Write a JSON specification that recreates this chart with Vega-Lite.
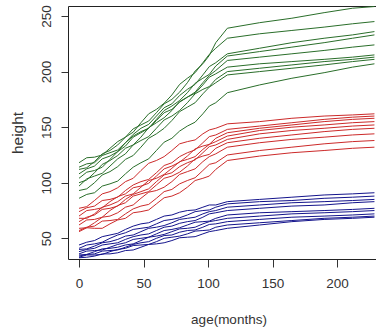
{
  "$schema": "https://vega.github.io/schema/vega-lite/v6.json",
  "width": 308,
  "height": 253,
  "autosize": {"type": "none"},
  "padding": {"left": 68, "top": 6, "right": 0, "bottom": 74},
  "background": "white",
  "config": {
    "font": "Liberation Sans",
    "view": {"stroke": null},
    "axis": {"grid": false, "domainColor": "#222", "tickColor": "#333", "labelColor": "#333", "titleColor": "#333", "labelFontSize": 13.5, "titleFontSize": 13.5, "titleFontWeight": "normal"}
  },
  "data": {"values": [
    {"curve":"G1","group":"green","age":0,"height":118},{"curve":"G1","group":"green","age":12,"height":123},{"curve":"G1","group":"green","age":24,"height":131},{"curve":"G1","group":"green","age":36,"height":141},{"curve":"G1","group":"green","age":48,"height":152},{"curve":"G1","group":"green","age":60,"height":163},{"curve":"G1","group":"green","age":72,"height":175},{"curve":"G1","group":"green","age":84,"height":190},{"curve":"G1","group":"green","age":96,"height":207},{"curve":"G1","group":"green","age":106,"height":226},{"curve":"G1","group":"green","age":115,"height":239},{"curve":"G1","group":"green","age":140,"height":244},{"curve":"G1","group":"green","age":165,"height":248},{"curve":"G1","group":"green","age":190,"height":253},{"curve":"G1","group":"green","age":212,"height":257},{"curve":"G1","group":"green","age":229,"height":258.5},
    {"curve":"G2","group":"green","age":0,"height":112},{"curve":"G2","group":"green","age":12,"height":119},{"curve":"G2","group":"green","age":24,"height":129},{"curve":"G2","group":"green","age":36,"height":141},{"curve":"G2","group":"green","age":48,"height":154},{"curve":"G2","group":"green","age":60,"height":166},{"curve":"G2","group":"green","age":72,"height":179},{"curve":"G2","group":"green","age":84,"height":194},{"curve":"G2","group":"green","age":96,"height":208},{"curve":"G2","group":"green","age":106,"height":221},{"curve":"G2","group":"green","age":115,"height":230},{"curve":"G2","group":"green","age":140,"height":234},{"curve":"G2","group":"green","age":165,"height":237},{"curve":"G2","group":"green","age":190,"height":240},{"curve":"G2","group":"green","age":212,"height":243},{"curve":"G2","group":"green","age":229,"height":245},
    {"curve":"G3","group":"green","age":0,"height":108},{"curve":"G3","group":"green","age":12,"height":115},{"curve":"G3","group":"green","age":24,"height":124},{"curve":"G3","group":"green","age":36,"height":136},{"curve":"G3","group":"green","age":48,"height":149},{"curve":"G3","group":"green","age":60,"height":160},{"curve":"G3","group":"green","age":72,"height":171},{"curve":"G3","group":"green","age":84,"height":184},{"curve":"G3","group":"green","age":96,"height":197},{"curve":"G3","group":"green","age":106,"height":208},{"curve":"G3","group":"green","age":115,"height":216},{"curve":"G3","group":"green","age":140,"height":221},{"curve":"G3","group":"green","age":165,"height":226},{"curve":"G3","group":"green","age":190,"height":230},{"curve":"G3","group":"green","age":212,"height":233},{"curve":"G3","group":"green","age":229,"height":236},
    {"curve":"G4","group":"green","age":0,"height":104},{"curve":"G4","group":"green","age":12,"height":111},{"curve":"G4","group":"green","age":24,"height":121},{"curve":"G4","group":"green","age":36,"height":133},{"curve":"G4","group":"green","age":48,"height":145},{"curve":"G4","group":"green","age":60,"height":157},{"curve":"G4","group":"green","age":72,"height":169},{"curve":"G4","group":"green","age":84,"height":181},{"curve":"G4","group":"green","age":96,"height":194},{"curve":"G4","group":"green","age":106,"height":205},{"curve":"G4","group":"green","age":115,"height":214},{"curve":"G4","group":"green","age":140,"height":218},{"curve":"G4","group":"green","age":165,"height":222},{"curve":"G4","group":"green","age":190,"height":226},{"curve":"G4","group":"green","age":212,"height":230},{"curve":"G4","group":"green","age":229,"height":233},
    {"curve":"G5","group":"green","age":0,"height":100},{"curve":"G5","group":"green","age":12,"height":109},{"curve":"G5","group":"green","age":24,"height":120},{"curve":"G5","group":"green","age":36,"height":131},{"curve":"G5","group":"green","age":48,"height":141},{"curve":"G5","group":"green","age":60,"height":154},{"curve":"G5","group":"green","age":72,"height":165},{"curve":"G5","group":"green","age":84,"height":177},{"curve":"G5","group":"green","age":96,"height":190},{"curve":"G5","group":"green","age":106,"height":201},{"curve":"G5","group":"green","age":115,"height":210},{"curve":"G5","group":"green","age":140,"height":213},{"curve":"G5","group":"green","age":165,"height":216},{"curve":"G5","group":"green","age":190,"height":219},{"curve":"G5","group":"green","age":212,"height":222},{"curve":"G5","group":"green","age":229,"height":224},
    {"curve":"G6","group":"green","age":0,"height":114},{"curve":"G6","group":"green","age":12,"height":118},{"curve":"G6","group":"green","age":24,"height":127},{"curve":"G6","group":"green","age":36,"height":136},{"curve":"G6","group":"green","age":48,"height":146},{"curve":"G6","group":"green","age":60,"height":156},{"curve":"G6","group":"green","age":72,"height":166},{"curve":"G6","group":"green","age":84,"height":177},{"curve":"G6","group":"green","age":96,"height":188},{"curve":"G6","group":"green","age":106,"height":198},{"curve":"G6","group":"green","age":115,"height":204},{"curve":"G6","group":"green","age":140,"height":207},{"curve":"G6","group":"green","age":165,"height":209},{"curve":"G6","group":"green","age":190,"height":211},{"curve":"G6","group":"green","age":212,"height":213},{"curve":"G6","group":"green","age":229,"height":215},
    {"curve":"G7","group":"green","age":0,"height":97},{"curve":"G7","group":"green","age":12,"height":106},{"curve":"G7","group":"green","age":24,"height":115},{"curve":"G7","group":"green","age":36,"height":126},{"curve":"G7","group":"green","age":48,"height":138},{"curve":"G7","group":"green","age":60,"height":149},{"curve":"G7","group":"green","age":72,"height":160},{"curve":"G7","group":"green","age":84,"height":172},{"curve":"G7","group":"green","age":96,"height":184},{"curve":"G7","group":"green","age":106,"height":193},{"curve":"G7","group":"green","age":115,"height":200},{"curve":"G7","group":"green","age":140,"height":203},{"curve":"G7","group":"green","age":165,"height":206},{"curve":"G7","group":"green","age":190,"height":209},{"curve":"G7","group":"green","age":212,"height":211},{"curve":"G7","group":"green","age":229,"height":213},
    {"curve":"G8","group":"green","age":0,"height":93},{"curve":"G8","group":"green","age":12,"height":100},{"curve":"G8","group":"green","age":24,"height":110},{"curve":"G8","group":"green","age":36,"height":121},{"curve":"G8","group":"green","age":48,"height":132},{"curve":"G8","group":"green","age":60,"height":144},{"curve":"G8","group":"green","age":72,"height":156},{"curve":"G8","group":"green","age":84,"height":168},{"curve":"G8","group":"green","age":96,"height":180},{"curve":"G8","group":"green","age":106,"height":190},{"curve":"G8","group":"green","age":115,"height":197},{"curve":"G8","group":"green","age":140,"height":200},{"curve":"G8","group":"green","age":165,"height":203},{"curve":"G8","group":"green","age":190,"height":206},{"curve":"G8","group":"green","age":212,"height":209},{"curve":"G8","group":"green","age":229,"height":211},
    {"curve":"G9","group":"green","age":0,"height":86},{"curve":"G9","group":"green","age":12,"height":91},{"curve":"G9","group":"green","age":24,"height":99},{"curve":"G9","group":"green","age":36,"height":108},{"curve":"G9","group":"green","age":48,"height":118},{"curve":"G9","group":"green","age":60,"height":129},{"curve":"G9","group":"green","age":72,"height":140},{"curve":"G9","group":"green","age":84,"height":151},{"curve":"G9","group":"green","age":96,"height":162},{"curve":"G9","group":"green","age":106,"height":172},{"curve":"G9","group":"green","age":115,"height":181},{"curve":"G9","group":"green","age":140,"height":188},{"curve":"G9","group":"green","age":165,"height":194},{"curve":"G9","group":"green","age":190,"height":199},{"curve":"G9","group":"green","age":212,"height":204},{"curve":"G9","group":"green","age":229,"height":207},
    {"curve":"R1","group":"red","age":0,"height":77},{"curve":"R1","group":"red","age":12,"height":84},{"curve":"R1","group":"red","age":24,"height":92},{"curve":"R1","group":"red","age":36,"height":101},{"curve":"R1","group":"red","age":48,"height":111},{"curve":"R1","group":"red","age":60,"height":120},{"curve":"R1","group":"red","age":72,"height":129},{"curve":"R1","group":"red","age":84,"height":137},{"curve":"R1","group":"red","age":96,"height":144},{"curve":"R1","group":"red","age":106,"height":149},{"curve":"R1","group":"red","age":115,"height":153},{"curve":"R1","group":"red","age":140,"height":155},{"curve":"R1","group":"red","age":165,"height":158},{"curve":"R1","group":"red","age":190,"height":160},{"curve":"R1","group":"red","age":212,"height":161},{"curve":"R1","group":"red","age":229,"height":162},
    {"curve":"R2","group":"red","age":0,"height":74},{"curve":"R2","group":"red","age":12,"height":79},{"curve":"R2","group":"red","age":24,"height":85},{"curve":"R2","group":"red","age":36,"height":93},{"curve":"R2","group":"red","age":48,"height":101},{"curve":"R2","group":"red","age":60,"height":109},{"curve":"R2","group":"red","age":72,"height":118},{"curve":"R2","group":"red","age":84,"height":127},{"curve":"R2","group":"red","age":96,"height":136},{"curve":"R2","group":"red","age":106,"height":143},{"curve":"R2","group":"red","age":115,"height":148},{"curve":"R2","group":"red","age":140,"height":151},{"curve":"R2","group":"red","age":165,"height":154},{"curve":"R2","group":"red","age":190,"height":157},{"curve":"R2","group":"red","age":212,"height":159},{"curve":"R2","group":"red","age":229,"height":160},
    {"curve":"R3","group":"red","age":0,"height":70},{"curve":"R3","group":"red","age":12,"height":76},{"curve":"R3","group":"red","age":24,"height":83},{"curve":"R3","group":"red","age":36,"height":90},{"curve":"R3","group":"red","age":48,"height":97},{"curve":"R3","group":"red","age":60,"height":106},{"curve":"R3","group":"red","age":72,"height":115},{"curve":"R3","group":"red","age":84,"height":124},{"curve":"R3","group":"red","age":96,"height":133},{"curve":"R3","group":"red","age":106,"height":140},{"curve":"R3","group":"red","age":115,"height":145},{"curve":"R3","group":"red","age":140,"height":149},{"curve":"R3","group":"red","age":165,"height":152},{"curve":"R3","group":"red","age":190,"height":155},{"curve":"R3","group":"red","age":212,"height":157},{"curve":"R3","group":"red","age":229,"height":158},
    {"curve":"R4","group":"red","age":0,"height":68},{"curve":"R4","group":"red","age":12,"height":72},{"curve":"R4","group":"red","age":24,"height":80},{"curve":"R4","group":"red","age":36,"height":88},{"curve":"R4","group":"red","age":48,"height":96},{"curve":"R4","group":"red","age":60,"height":104},{"curve":"R4","group":"red","age":72,"height":113},{"curve":"R4","group":"red","age":84,"height":121},{"curve":"R4","group":"red","age":96,"height":130},{"curve":"R4","group":"red","age":106,"height":137},{"curve":"R4","group":"red","age":115,"height":142},{"curve":"R4","group":"red","age":140,"height":147},{"curve":"R4","group":"red","age":165,"height":150},{"curve":"R4","group":"red","age":190,"height":152},{"curve":"R4","group":"red","age":212,"height":154},{"curve":"R4","group":"red","age":229,"height":155},
    {"curve":"R5","group":"red","age":0,"height":65},{"curve":"R5","group":"red","age":12,"height":71},{"curve":"R5","group":"red","age":24,"height":77},{"curve":"R5","group":"red","age":36,"height":85},{"curve":"R5","group":"red","age":48,"height":92},{"curve":"R5","group":"red","age":60,"height":101},{"curve":"R5","group":"red","age":72,"height":109},{"curve":"R5","group":"red","age":84,"height":118},{"curve":"R5","group":"red","age":96,"height":127},{"curve":"R5","group":"red","age":106,"height":134},{"curve":"R5","group":"red","age":115,"height":139},{"curve":"R5","group":"red","age":140,"height":144},{"curve":"R5","group":"red","age":165,"height":147},{"curve":"R5","group":"red","age":190,"height":149},{"curve":"R5","group":"red","age":212,"height":151},{"curve":"R5","group":"red","age":229,"height":152},
    {"curve":"R6","group":"red","age":0,"height":62},{"curve":"R6","group":"red","age":12,"height":67},{"curve":"R6","group":"red","age":24,"height":75},{"curve":"R6","group":"red","age":36,"height":82},{"curve":"R6","group":"red","age":48,"height":90},{"curve":"R6","group":"red","age":60,"height":98},{"curve":"R6","group":"red","age":72,"height":106},{"curve":"R6","group":"red","age":84,"height":115},{"curve":"R6","group":"red","age":96,"height":124},{"curve":"R6","group":"red","age":106,"height":131},{"curve":"R6","group":"red","age":115,"height":136},{"curve":"R6","group":"red","age":140,"height":140},{"curve":"R6","group":"red","age":165,"height":143},{"curve":"R6","group":"red","age":190,"height":146},{"curve":"R6","group":"red","age":212,"height":148},{"curve":"R6","group":"red","age":229,"height":149},
    {"curve":"R7","group":"red","age":0,"height":59},{"curve":"R7","group":"red","age":12,"height":64},{"curve":"R7","group":"red","age":24,"height":70},{"curve":"R7","group":"red","age":36,"height":78},{"curve":"R7","group":"red","age":48,"height":86},{"curve":"R7","group":"red","age":60,"height":93},{"curve":"R7","group":"red","age":72,"height":101},{"curve":"R7","group":"red","age":84,"height":110},{"curve":"R7","group":"red","age":96,"height":119},{"curve":"R7","group":"red","age":106,"height":126},{"curve":"R7","group":"red","age":115,"height":132},{"curve":"R7","group":"red","age":140,"height":136},{"curve":"R7","group":"red","age":165,"height":139},{"curve":"R7","group":"red","age":190,"height":141},{"curve":"R7","group":"red","age":212,"height":143},{"curve":"R7","group":"red","age":229,"height":144},
    {"curve":"R8","group":"red","age":0,"height":57},{"curve":"R8","group":"red","age":12,"height":61},{"curve":"R8","group":"red","age":24,"height":66},{"curve":"R8","group":"red","age":36,"height":72},{"curve":"R8","group":"red","age":48,"height":79},{"curve":"R8","group":"red","age":60,"height":86},{"curve":"R8","group":"red","age":72,"height":94},{"curve":"R8","group":"red","age":84,"height":102},{"curve":"R8","group":"red","age":96,"height":111},{"curve":"R8","group":"red","age":106,"height":118},{"curve":"R8","group":"red","age":115,"height":125},{"curve":"R8","group":"red","age":140,"height":129},{"curve":"R8","group":"red","age":165,"height":132},{"curve":"R8","group":"red","age":190,"height":135},{"curve":"R8","group":"red","age":212,"height":137},{"curve":"R8","group":"red","age":229,"height":138},
    {"curve":"R9","group":"red","age":0,"height":56},{"curve":"R9","group":"red","age":12,"height":59},{"curve":"R9","group":"red","age":24,"height":63},{"curve":"R9","group":"red","age":36,"height":68},{"curve":"R9","group":"red","age":48,"height":74},{"curve":"R9","group":"red","age":60,"height":81},{"curve":"R9","group":"red","age":72,"height":88},{"curve":"R9","group":"red","age":84,"height":96},{"curve":"R9","group":"red","age":96,"height":104},{"curve":"R9","group":"red","age":106,"height":112},{"curve":"R9","group":"red","age":115,"height":120},{"curve":"R9","group":"red","age":140,"height":124},{"curve":"R9","group":"red","age":165,"height":127},{"curve":"R9","group":"red","age":190,"height":129},{"curve":"R9","group":"red","age":212,"height":131},{"curve":"R9","group":"red","age":229,"height":132},
    {"curve":"B1","group":"blue","age":0,"height":44},{"curve":"B1","group":"blue","age":12,"height":48},{"curve":"B1","group":"blue","age":24,"height":53},{"curve":"B1","group":"blue","age":36,"height":58},{"curve":"B1","group":"blue","age":48,"height":63},{"curve":"B1","group":"blue","age":60,"height":67},{"curve":"B1","group":"blue","age":72,"height":71},{"curve":"B1","group":"blue","age":84,"height":75},{"curve":"B1","group":"blue","age":96,"height":78},{"curve":"B1","group":"blue","age":106,"height":80},{"curve":"B1","group":"blue","age":115,"height":83},{"curve":"B1","group":"blue","age":140,"height":85},{"curve":"B1","group":"blue","age":165,"height":87},{"curve":"B1","group":"blue","age":190,"height":89},{"curve":"B1","group":"blue","age":212,"height":90},{"curve":"B1","group":"blue","age":229,"height":91},
    {"curve":"B2","group":"blue","age":0,"height":41},{"curve":"B2","group":"blue","age":12,"height":45},{"curve":"B2","group":"blue","age":24,"height":50},{"curve":"B2","group":"blue","age":36,"height":55},{"curve":"B2","group":"blue","age":48,"height":59},{"curve":"B2","group":"blue","age":60,"height":63},{"curve":"B2","group":"blue","age":72,"height":67},{"curve":"B2","group":"blue","age":84,"height":71},{"curve":"B2","group":"blue","age":96,"height":75},{"curve":"B2","group":"blue","age":106,"height":78},{"curve":"B2","group":"blue","age":115,"height":81},{"curve":"B2","group":"blue","age":140,"height":83},{"curve":"B2","group":"blue","age":165,"height":84},{"curve":"B2","group":"blue","age":190,"height":86},{"curve":"B2","group":"blue","age":212,"height":87},{"curve":"B2","group":"blue","age":229,"height":88},
    {"curve":"B3","group":"blue","age":0,"height":40},{"curve":"B3","group":"blue","age":12,"height":43},{"curve":"B3","group":"blue","age":24,"height":47},{"curve":"B3","group":"blue","age":36,"height":52},{"curve":"B3","group":"blue","age":48,"height":56},{"curve":"B3","group":"blue","age":60,"height":60},{"curve":"B3","group":"blue","age":72,"height":64},{"curve":"B3","group":"blue","age":84,"height":68},{"curve":"B3","group":"blue","age":96,"height":72},{"curve":"B3","group":"blue","age":106,"height":75},{"curve":"B3","group":"blue","age":115,"height":78},{"curve":"B3","group":"blue","age":140,"height":80},{"curve":"B3","group":"blue","age":165,"height":82},{"curve":"B3","group":"blue","age":190,"height":83},{"curve":"B3","group":"blue","age":212,"height":84},{"curve":"B3","group":"blue","age":229,"height":85},
    {"curve":"B4","group":"blue","age":0,"height":38},{"curve":"B4","group":"blue","age":12,"height":41},{"curve":"B4","group":"blue","age":24,"height":45},{"curve":"B4","group":"blue","age":36,"height":49},{"curve":"B4","group":"blue","age":48,"height":53},{"curve":"B4","group":"blue","age":60,"height":57},{"curve":"B4","group":"blue","age":72,"height":61},{"curve":"B4","group":"blue","age":84,"height":65},{"curve":"B4","group":"blue","age":96,"height":69},{"curve":"B4","group":"blue","age":106,"height":73},{"curve":"B4","group":"blue","age":115,"height":75},{"curve":"B4","group":"blue","age":140,"height":77},{"curve":"B4","group":"blue","age":165,"height":79},{"curve":"B4","group":"blue","age":190,"height":80},{"curve":"B4","group":"blue","age":212,"height":82},{"curve":"B4","group":"blue","age":229,"height":83},
    {"curve":"B5","group":"blue","age":0,"height":36},{"curve":"B5","group":"blue","age":12,"height":39},{"curve":"B5","group":"blue","age":24,"height":42},{"curve":"B5","group":"blue","age":36,"height":46},{"curve":"B5","group":"blue","age":48,"height":50},{"curve":"B5","group":"blue","age":60,"height":54},{"curve":"B5","group":"blue","age":72,"height":58},{"curve":"B5","group":"blue","age":84,"height":62},{"curve":"B5","group":"blue","age":96,"height":65},{"curve":"B5","group":"blue","age":106,"height":68},{"curve":"B5","group":"blue","age":115,"height":71},{"curve":"B5","group":"blue","age":140,"height":73},{"curve":"B5","group":"blue","age":165,"height":74},{"curve":"B5","group":"blue","age":190,"height":75},{"curve":"B5","group":"blue","age":212,"height":76},{"curve":"B5","group":"blue","age":229,"height":77},
    {"curve":"B6","group":"blue","age":0,"height":35},{"curve":"B6","group":"blue","age":12,"height":38},{"curve":"B6","group":"blue","age":24,"height":41},{"curve":"B6","group":"blue","age":36,"height":44},{"curve":"B6","group":"blue","age":48,"height":48},{"curve":"B6","group":"blue","age":60,"height":52},{"curve":"B6","group":"blue","age":72,"height":56},{"curve":"B6","group":"blue","age":84,"height":59},{"curve":"B6","group":"blue","age":96,"height":63},{"curve":"B6","group":"blue","age":106,"height":66},{"curve":"B6","group":"blue","age":115,"height":68},{"curve":"B6","group":"blue","age":140,"height":70},{"curve":"B6","group":"blue","age":165,"height":72},{"curve":"B6","group":"blue","age":190,"height":73},{"curve":"B6","group":"blue","age":212,"height":74},{"curve":"B6","group":"blue","age":229,"height":75},
    {"curve":"B7","group":"blue","age":0,"height":34},{"curve":"B7","group":"blue","age":12,"height":36},{"curve":"B7","group":"blue","age":24,"height":39},{"curve":"B7","group":"blue","age":36,"height":42},{"curve":"B7","group":"blue","age":48,"height":46},{"curve":"B7","group":"blue","age":60,"height":50},{"curve":"B7","group":"blue","age":72,"height":53},{"curve":"B7","group":"blue","age":84,"height":57},{"curve":"B7","group":"blue","age":96,"height":60},{"curve":"B7","group":"blue","age":106,"height":63},{"curve":"B7","group":"blue","age":115,"height":65},{"curve":"B7","group":"blue","age":140,"height":67},{"curve":"B7","group":"blue","age":165,"height":69},{"curve":"B7","group":"blue","age":190,"height":70},{"curve":"B7","group":"blue","age":212,"height":71},{"curve":"B7","group":"blue","age":229,"height":72},
    {"curve":"B8","group":"blue","age":0,"height":33},{"curve":"B8","group":"blue","age":12,"height":35},{"curve":"B8","group":"blue","age":24,"height":38},{"curve":"B8","group":"blue","age":36,"height":41},{"curve":"B8","group":"blue","age":48,"height":44},{"curve":"B8","group":"blue","age":60,"height":47},{"curve":"B8","group":"blue","age":72,"height":51},{"curve":"B8","group":"blue","age":84,"height":54},{"curve":"B8","group":"blue","age":96,"height":57},{"curve":"B8","group":"blue","age":106,"height":60},{"curve":"B8","group":"blue","age":115,"height":62},{"curve":"B8","group":"blue","age":140,"height":64},{"curve":"B8","group":"blue","age":165,"height":66},{"curve":"B8","group":"blue","age":190,"height":68},{"curve":"B8","group":"blue","age":212,"height":69},{"curve":"B8","group":"blue","age":229,"height":70},
    {"curve":"B9","group":"blue","age":0,"height":32.5},{"curve":"B9","group":"blue","age":12,"height":34},{"curve":"B9","group":"blue","age":24,"height":36},{"curve":"B9","group":"blue","age":36,"height":39},{"curve":"B9","group":"blue","age":48,"height":42},{"curve":"B9","group":"blue","age":60,"height":45},{"curve":"B9","group":"blue","age":72,"height":48},{"curve":"B9","group":"blue","age":84,"height":51},{"curve":"B9","group":"blue","age":96,"height":54},{"curve":"B9","group":"blue","age":106,"height":57},{"curve":"B9","group":"blue","age":115,"height":59},{"curve":"B9","group":"blue","age":140,"height":62},{"curve":"B9","group":"blue","age":165,"height":65},{"curve":"B9","group":"blue","age":190,"height":67},{"curve":"B9","group":"blue","age":212,"height":68},{"curve":"B9","group":"blue","age":229,"height":69},
    {"curve":"G1","group":"green","age":6,"height":122.5},{"curve":"G1","group":"green","age":18,"height":125},{"curve":"G1","group":"green","age":30,"height":137},{"curve":"G1","group":"green","age":42,"height":148.5},{"curve":"G1","group":"green","age":54,"height":155.5},{"curve":"G1","group":"green","age":66,"height":171},{"curve":"G1","group":"green","age":78,"height":181.5},{"curve":"G1","group":"green","age":90,"height":200.5},{"curve":"G1","group":"green","age":101,"height":214.5},
    {"curve":"G2","group":"green","age":6,"height":113.5},{"curve":"G2","group":"green","age":18,"height":126},{"curve":"G2","group":"green","age":30,"height":134},{"curve":"G2","group":"green","age":42,"height":145.5},{"curve":"G2","group":"green","age":54,"height":162},{"curve":"G2","group":"green","age":66,"height":171.5},{"curve":"G2","group":"green","age":78,"height":188.5},{"curve":"G2","group":"green","age":90,"height":199},{"curve":"G2","group":"green","age":101,"height":215.5},
    {"curve":"G3","group":"green","age":6,"height":112.5},{"curve":"G3","group":"green","age":18,"height":121.5},{"curve":"G3","group":"green","age":30,"height":128},{"curve":"G3","group":"green","age":42,"height":143.5},{"curve":"G3","group":"green","age":54,"height":152.5},{"curve":"G3","group":"green","age":66,"height":167.5},{"curve":"G3","group":"green","age":78,"height":178.5},{"curve":"G3","group":"green","age":90,"height":188.5},{"curve":"G3","group":"green","age":101,"height":204.5},
    {"curve":"G4","group":"green","age":6,"height":109.5},{"curve":"G4","group":"green","age":18,"height":114},{"curve":"G4","group":"green","age":30,"height":128},{"curve":"G4","group":"green","age":42,"height":141},{"curve":"G4","group":"green","age":54,"height":149},{"curve":"G4","group":"green","age":66,"height":165},{"curve":"G4","group":"green","age":78,"height":174},{"curve":"G4","group":"green","age":90,"height":189.5},{"curve":"G4","group":"green","age":101,"height":197.5},
    {"curve":"G5","group":"green","age":6,"height":102.5},{"curve":"G5","group":"green","age":18,"height":116.5},{"curve":"G5","group":"green","age":30,"height":124.5},{"curve":"G5","group":"green","age":42,"height":134},{"curve":"G5","group":"green","age":54,"height":149.5},{"curve":"G5","group":"green","age":66,"height":158.5},{"curve":"G5","group":"green","age":78,"height":173},{"curve":"G5","group":"green","age":90,"height":181.5},{"curve":"G5","group":"green","age":101,"height":196.5},
    {"curve":"G6","group":"green","age":6,"height":117},{"curve":"G6","group":"green","age":18,"height":124.5},{"curve":"G6","group":"green","age":30,"height":129.5},{"curve":"G6","group":"green","age":42,"height":142},{"curve":"G6","group":"green","age":54,"height":149},{"curve":"G6","group":"green","age":66,"height":163},{"curve":"G6","group":"green","age":78,"height":172.5},{"curve":"G6","group":"green","age":90,"height":180.5},{"curve":"G6","group":"green","age":101,"height":195},
    {"curve":"G7","group":"green","age":6,"height":103.5},{"curve":"G7","group":"green","age":18,"height":108.5},{"curve":"G7","group":"green","age":30,"height":121.5},{"curve":"G7","group":"green","age":42,"height":134},{"curve":"G7","group":"green","age":54,"height":141.5},{"curve":"G7","group":"green","age":66,"height":156.5},{"curve":"G7","group":"green","age":78,"height":165},{"curve":"G7","group":"green","age":90,"height":180},{"curve":"G7","group":"green","age":101,"height":186.5},
    {"curve":"G8","group":"green","age":6,"height":94.5},{"curve":"G8","group":"green","age":18,"height":107},{"curve":"G8","group":"green","age":30,"height":114.5},{"curve":"G8","group":"green","age":42,"height":124.5},{"curve":"G8","group":"green","age":54,"height":140},{"curve":"G8","group":"green","age":66,"height":149},{"curve":"G8","group":"green","age":78,"height":164},{"curve":"G8","group":"green","age":90,"height":172},{"curve":"G8","group":"green","age":101,"height":186},
    {"curve":"G9","group":"green","age":6,"height":89.5},{"curve":"G9","group":"green","age":18,"height":97},{"curve":"G9","group":"green","age":30,"height":101.5},{"curve":"G9","group":"green","age":42,"height":114},{"curve":"G9","group":"green","age":54,"height":121.5},{"curve":"G9","group":"green","age":66,"height":136.5},{"curve":"G9","group":"green","age":78,"height":146.5},{"curve":"G9","group":"green","age":90,"height":154.5},{"curve":"G9","group":"green","age":101,"height":169},
    {"curve":"R1","group":"red","age":6,"height":78.5},{"curve":"R1","group":"red","age":18,"height":90},{"curve":"R1","group":"red","age":30,"height":95.5},{"curve":"R1","group":"red","age":42,"height":104},{"curve":"R1","group":"red","age":54,"height":117.5},{"curve":"R1","group":"red","age":66,"height":123.5},{"curve":"R1","group":"red","age":78,"height":135},{"curve":"R1","group":"red","age":90,"height":138.5},{"curve":"R1","group":"red","age":101,"height":147.5},
    {"curve":"R2","group":"red","age":6,"height":77.5},{"curve":"R2","group":"red","age":18,"height":84},{"curve":"R2","group":"red","age":30,"height":87},{"curve":"R2","group":"red","age":42,"height":98},{"curve":"R2","group":"red","age":54,"height":103},{"curve":"R2","group":"red","age":66,"height":115.5},{"curve":"R2","group":"red","age":78,"height":123.5},{"curve":"R2","group":"red","age":90,"height":129.5},{"curve":"R2","group":"red","age":101,"height":141.5},
    {"curve":"R3","group":"red","age":6,"height":75},{"curve":"R3","group":"red","age":18,"height":77.5},{"curve":"R3","group":"red","age":30,"height":87.5},{"curve":"R3","group":"red","age":42,"height":95.5},{"curve":"R3","group":"red","age":54,"height":99.5},{"curve":"R3","group":"red","age":66,"height":112.5},{"curve":"R3","group":"red","age":78,"height":118.5},{"curve":"R3","group":"red","age":90,"height":130.5},{"curve":"R3","group":"red","age":101,"height":134.5},
    {"curve":"R4","group":"red","age":6,"height":68},{"curve":"R4","group":"red","age":18,"height":78},{"curve":"R4","group":"red","age":30,"height":83},{"curve":"R4","group":"red","age":42,"height":90},{"curve":"R4","group":"red","age":54,"height":102},{"curve":"R4","group":"red","age":66,"height":107.5},{"curve":"R4","group":"red","age":78,"height":119},{"curve":"R4","group":"red","age":90,"height":123.5},{"curve":"R4","group":"red","age":101,"height":134.5},
    {"curve":"R5","group":"red","age":6,"height":69},{"curve":"R5","group":"red","age":18,"height":76},{"curve":"R5","group":"red","age":30,"height":79},{"curve":"R5","group":"red","age":42,"height":89.5},{"curve":"R5","group":"red","age":54,"height":94.5},{"curve":"R5","group":"red","age":66,"height":107},{"curve":"R5","group":"red","age":78,"height":114.5},{"curve":"R5","group":"red","age":90,"height":120.5},{"curve":"R5","group":"red","age":101,"height":132.5},
    {"curve":"R6","group":"red","age":6,"height":66.5},{"curve":"R6","group":"red","age":18,"height":69},{"curve":"R6","group":"red","age":30,"height":79.5},{"curve":"R6","group":"red","age":42,"height":88},{"curve":"R6","group":"red","age":54,"height":92},{"curve":"R6","group":"red","age":66,"height":104},{"curve":"R6","group":"red","age":78,"height":109.5},{"curve":"R6","group":"red","age":90,"height":121.5},{"curve":"R6","group":"red","age":101,"height":125.5},
    {"curve":"R7","group":"red","age":6,"height":59.5},{"curve":"R7","group":"red","age":18,"height":69},{"curve":"R7","group":"red","age":30,"height":73},{"curve":"R7","group":"red","age":42,"height":80},{"curve":"R7","group":"red","age":54,"height":91.5},{"curve":"R7","group":"red","age":66,"height":96},{"curve":"R7","group":"red","age":78,"height":107.5},{"curve":"R7","group":"red","age":90,"height":112.5},{"curve":"R7","group":"red","age":101,"height":123.5},
    {"curve":"R8","group":"red","age":6,"height":60},{"curve":"R8","group":"red","age":18,"height":65.5},{"curve":"R8","group":"red","age":30,"height":67},{"curve":"R8","group":"red","age":42,"height":76.5},{"curve":"R8","group":"red","age":54,"height":80.5},{"curve":"R8","group":"red","age":66,"height":92},{"curve":"R8","group":"red","age":78,"height":99},{"curve":"R8","group":"red","age":90,"height":104.5},{"curve":"R8","group":"red","age":101,"height":116.5},
    {"curve":"R9","group":"red","age":6,"height":59.5},{"curve":"R9","group":"red","age":18,"height":59},{"curve":"R9","group":"red","age":30,"height":66.5},{"curve":"R9","group":"red","age":42,"height":73},{"curve":"R9","group":"red","age":54,"height":75.5},{"curve":"R9","group":"red","age":66,"height":86.5},{"curve":"R9","group":"red","age":78,"height":91},{"curve":"R9","group":"red","age":90,"height":102},{"curve":"R9","group":"red","age":101,"height":106},
    {"curve":"B1","group":"blue","age":6,"height":46.5},{"curve":"B1","group":"blue","age":18,"height":51.5},{"curve":"B1","group":"blue","age":30,"height":54.5},{"curve":"B1","group":"blue","age":42,"height":61},{"curve":"B1","group":"blue","age":54,"height":64},{"curve":"B1","group":"blue","age":66,"height":70},{"curve":"B1","group":"blue","age":78,"height":73.5},{"curve":"B1","group":"blue","age":90,"height":75.5},{"curve":"B1","group":"blue","age":101,"height":80},
    {"curve":"B2","group":"blue","age":6,"height":44},{"curve":"B2","group":"blue","age":18,"height":46.5},{"curve":"B2","group":"blue","age":30,"height":53},{"curve":"B2","group":"blue","age":42,"height":58},{"curve":"B2","group":"blue","age":54,"height":60},{"curve":"B2","group":"blue","age":66,"height":66},{"curve":"B2","group":"blue","age":78,"height":68.5},{"curve":"B2","group":"blue","age":90,"height":74},{"curve":"B2","group":"blue","age":101,"height":75.5},
    {"curve":"B3","group":"blue","age":6,"height":40.5},{"curve":"B3","group":"blue","age":18,"height":46},{"curve":"B3","group":"blue","age":30,"height":49},{"curve":"B3","group":"blue","age":42,"height":53},{"curve":"B3","group":"blue","age":54,"height":59},{"curve":"B3","group":"blue","age":66,"height":61.5},{"curve":"B3","group":"blue","age":78,"height":67},{"curve":"B3","group":"blue","age":90,"height":69},{"curve":"B3","group":"blue","age":101,"height":74},
    {"curve":"B4","group":"blue","age":6,"height":40},{"curve":"B4","group":"blue","age":18,"height":44},{"curve":"B4","group":"blue","age":30,"height":46},{"curve":"B4","group":"blue","age":42,"height":51.5},{"curve":"B4","group":"blue","age":54,"height":54},{"curve":"B4","group":"blue","age":66,"height":60},{"curve":"B4","group":"blue","age":78,"height":63.5},{"curve":"B4","group":"blue","age":90,"height":66},{"curve":"B4","group":"blue","age":101,"height":72},
    {"curve":"B5","group":"blue","age":6,"height":38.5},{"curve":"B5","group":"blue","age":18,"height":39.5},{"curve":"B5","group":"blue","age":30,"height":44.5},{"curve":"B5","group":"blue","age":42,"height":49},{"curve":"B5","group":"blue","age":54,"height":51},{"curve":"B5","group":"blue","age":66,"height":57},{"curve":"B5","group":"blue","age":78,"height":59.5},{"curve":"B5","group":"blue","age":90,"height":64.5},{"curve":"B5","group":"blue","age":101,"height":65.5},
    {"curve":"B6","group":"blue","age":6,"height":35.5},{"curve":"B6","group":"blue","age":18,"height":40.5},{"curve":"B6","group":"blue","age":30,"height":42},{"curve":"B6","group":"blue","age":42,"height":45},{"curve":"B6","group":"blue","age":54,"height":51},{"curve":"B6","group":"blue","age":66,"height":53.5},{"curve":"B6","group":"blue","age":78,"height":58.5},{"curve":"B6","group":"blue","age":90,"height":60},{"curve":"B6","group":"blue","age":101,"height":65},
    {"curve":"B7","group":"blue","age":6,"height":35.5},{"curve":"B7","group":"blue","age":18,"height":38.5},{"curve":"B7","group":"blue","age":30,"height":39.5},{"curve":"B7","group":"blue","age":42,"height":44.5},{"curve":"B7","group":"blue","age":54,"height":47},{"curve":"B7","group":"blue","age":66,"height":52.5},{"curve":"B7","group":"blue","age":78,"height":55.5},{"curve":"B7","group":"blue","age":90,"height":57.5},{"curve":"B7","group":"blue","age":101,"height":62.5},
    {"curve":"B8","group":"blue","age":6,"height":35},{"curve":"B8","group":"blue","age":18,"height":35.5},{"curve":"B8","group":"blue","age":30,"height":40},{"curve":"B8","group":"blue","age":42,"height":43.5},{"curve":"B8","group":"blue","age":54,"height":44.5},{"curve":"B8","group":"blue","age":66,"height":50},{"curve":"B8","group":"blue","age":78,"height":52},{"curve":"B8","group":"blue","age":90,"height":56.5},{"curve":"B8","group":"blue","age":101,"height":57.5},
    {"curve":"B9","group":"blue","age":6,"height":33},{"curve":"B9","group":"blue","age":18,"height":36},{"curve":"B9","group":"blue","age":30,"height":37},{"curve":"B9","group":"blue","age":42,"height":39.5},{"curve":"B9","group":"blue","age":54,"height":44.5},{"curve":"B9","group":"blue","age":66,"height":46},{"curve":"B9","group":"blue","age":78,"height":50.5},{"curve":"B9","group":"blue","age":90,"height":51.5},{"curve":"B9","group":"blue","age":101,"height":56}
  ]},
  "encoding": {
    "y": {"field": "height", "type": "quantitative", "scale": {"domain": [31.4, 259], "nice": false, "zero": false},
      "axis": {"values": [50, 100, 150, 200, 250], "tickSize": 7, "labelAngle": -90, "labelAlign": "center", "labelBaseline": "alphabetic", "labelPadding": 11,
        "title": "height", "titleFontSize": 15.5, "titleAngle": -90, "titleAlign": "center", "titleBaseline": "alphabetic", "titleX": -45.5, "titleY": 126.5}},
    "color": {"field": "group", "type": "nominal", "scale": {"domain": ["green", "red", "blue"], "range": ["#2a6e2a", "#cc2a2a", "#14148c"]}, "legend": null},
    "detail": {"field": "curve", "type": "nominal"}
  },
  "layer": [
    {
      "transform": [{"filter": "datum.group !== 'blue'"}],
      "mark": {"type": "line", "strokeWidth": 1, "clip": true},
      "encoding": {
        "x": {"field": "age", "type": "quantitative", "scale": {"domain": [-8.53, 230.2], "nice": false, "zero": false},
          "axis": {"values": [0, 50, 100, 150, 200], "tickSize": 8, "labelPadding": 9, "title": "age(months)", "titleX": 160.5, "titleY": 64, "titleBaseline": "alphabetic", "titleAlign": "center"}}
      }
    },
    {
      "transform": [{"filter": "datum.group === 'blue'"}],
      "mark": {"type": "line", "strokeWidth": 1, "clip": true},
      "encoding": {
        "x": {"field": "age", "type": "quantitative",
          "axis": {"orient": "top", "ticks": false, "labels": false, "title": null, "domain": true}}
      }
    }
  ],
  "resolve": {"axis": {"x": "independent"}}
}
